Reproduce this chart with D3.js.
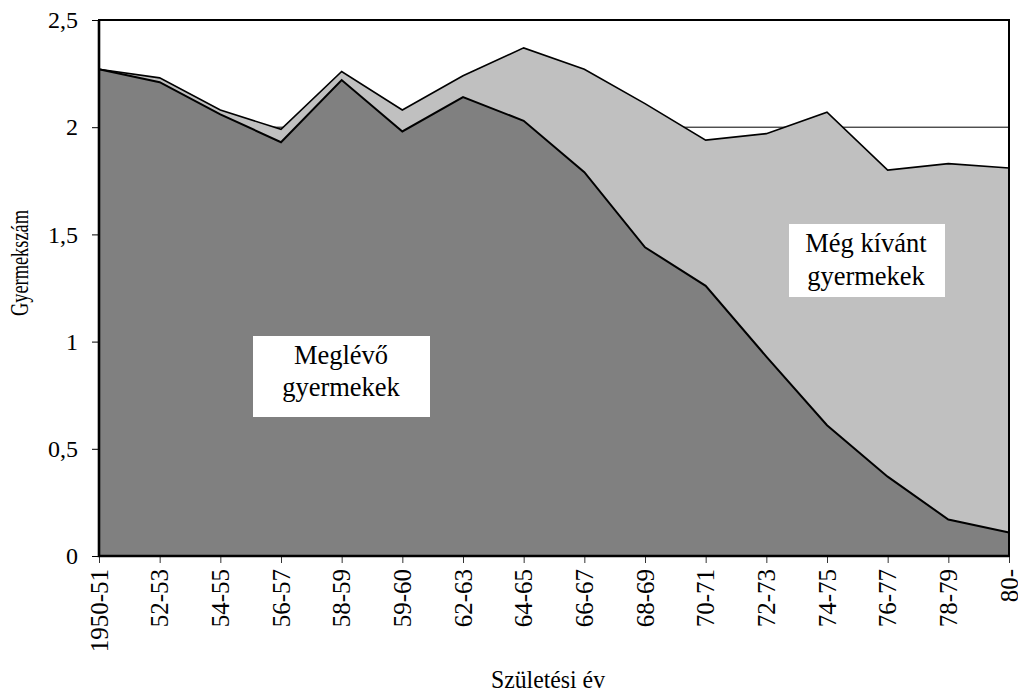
<!DOCTYPE html>
<html>
<head>
<meta charset="utf-8">
<script src="https://cdn.jsdelivr.net/npm/d3@7"></script>
<style>
  html, body { margin: 0; padding: 0; background: #fff; }
  svg text { font-family: "Liberation Serif", "Times New Roman", "DejaVu Serif", serif !important; }
</style>
</head>
<body>
<div id="chart"></div>
<script>
// categories (birth years)
const years = ['1950-51','52-53','54-55','56-57','58-59','59-60','62-63','64-65',
               '66-67','68-69','70-71','72-73','74-75','76-77','78-79','80-'];
// existing children
const meglevo = [2.27,2.21,2.06,1.93,2.22,1.98,2.14,2.03,1.79,1.44,1.26,0.93,0.61,0.37,0.17,0.11];
// still wanted children (stacked on top)
const kivant  = [0.00,0.02,0.02,0.06,0.04,0.10,0.10,0.34,0.48,0.67,0.68,1.04,1.46,1.43,1.66,1.70];
const yTicks = [0, 0.5, 1, 1.5, 2, 2.5];

const W = 1018, H = 692;
let plot = {left: 99, right: 1009, top: 20, bottom: 556};

const rows = years.map((y, i) => ({year: y, meglevo: meglevo[i], kivant: kivant[i]}));
const stacked = d3.stack().keys(['meglevo', 'kivant'])(rows);

let x = d3.scalePoint().domain(years).range([plot.left, plot.right]);
let y = d3.scaleLinear().domain([0, 2.5]).range([plot.bottom, plot.top]);

const svg = d3.select('#chart').append('svg')
  .attr('width', W).attr('height', H);

/// reference line at 2
svg.append('line')
  .attr('x1', plot.left).attr('x2', plot.right)
  .attr('y1', y(2)).attr('y2', y(2))
  .attr('stroke', '#000').attr('stroke-width', 1);

/// areas
const area = d3.area()
  .x(d => x(d.data.year))
  .y0(d => y(d[0]))
  .y1(d => y(d[1]));
const fills = ['#808080', '#c0c0c0'];

svg.selectAll('.layer')
  .data(stacked)
  .join('path')
  .attr('class', 'layer')
  .attr('d', area)
  .attr('fill', (d, i) => fills[i]);

const line = d3.line()
  .x(d => x(d.data.year))
  .y(d => y(d[1]));

svg.selectAll('.edge')
  .data(stacked.slice().reverse())
  .join('path')
  .attr('class', 'edge')
  .attr('d', line)
  .attr('fill', 'none')
  .attr('stroke', '#000')
  .attr('stroke-width', (d, i) => i === 0 ? 1.6 : 2)
  .attr('stroke-linejoin', 'miter');

/// axes
const yAxis = svg.append('g')
  .attr('transform', `translate(${plot.left},0)`)
  .call(d3.axisLeft(y).tickValues(yTicks).tickSize(7).tickPadding(14)
    .tickFormat(d => String(d).replace('.', ',')));
yAxis.select('.domain').remove();
yAxis.selectAll('line').attr('stroke', '#000');
yAxis.selectAll('text')
  .attr('font-size', 24)
  .attr('fill', '#000');

const xAxis = svg.append('g')
  .attr('transform', `translate(0,${plot.bottom})`)
  .call(d3.axisBottom(x).tickSize(7).tickPadding(0));
xAxis.select('.domain').remove();
xAxis.selectAll('line').attr('stroke', '#333');
xAxis.selectAll('text')
  .attr('font-size', 25)
  .attr('fill', '#000')
  .attr('text-anchor', 'end')
  .attr('transform', 'rotate(-90)')
  .attr('x', -13)
  .attr('y', 0)
  .attr('dy', '0.33em');

/// frame
svg.append('rect')
  .attr('x', plot.left).attr('y', plot.top)
  .attr('width', plot.right - plot.left).attr('height', plot.bottom - plot.top)
  .attr('fill', 'none').attr('stroke', '#000').attr('stroke-width', 2);
svg.append('path')
  .attr('d', `M${plot.left},${plot.top}V${plot.bottom}H${plot.right}`)
  .attr('fill', 'none').attr('stroke', '#000').attr('stroke-width', 2.6);

/// titles
svg.append('text')
  .attr('x', 548).attr('y', 688)
  .attr('text-anchor', 'middle')
  .attr('font-size', 25)
  .attr('textLength', 114).attr('lengthAdjust', 'spacingAndGlyphs')
  .text('Születési év');

svg.append('text')
  .attr('transform', 'translate(28,263) rotate(-90)')
  .attr('text-anchor', 'middle')
  .attr('font-size', 26)
  .attr('textLength', 106).attr('lengthAdjust', 'spacingAndGlyphs')
  .text('Gyermekszám');

/// in-chart labels
function label(x0, y0, w, h, lines, cx, baselines) {
  svg.append('rect')
    .attr('x', x0).attr('y', y0).attr('width', w).attr('height', h)
    .attr('fill', '#fff');
  lines.forEach((t, i) => {
    svg.append('text')
      .attr('x', cx).attr('y', baselines[i])
      .attr('text-anchor', 'middle')
      .attr('font-size', 26.5)
      .text(t);
  });
}
label(253, 336, 177, 81, ['Meglévő', 'gyermekek'], 341, [364, 396]);
label(789, 224, 156, 73, ['Még kívánt', 'gyermekek'], 866, [252, 285]);
</script>
</body>
</html>
